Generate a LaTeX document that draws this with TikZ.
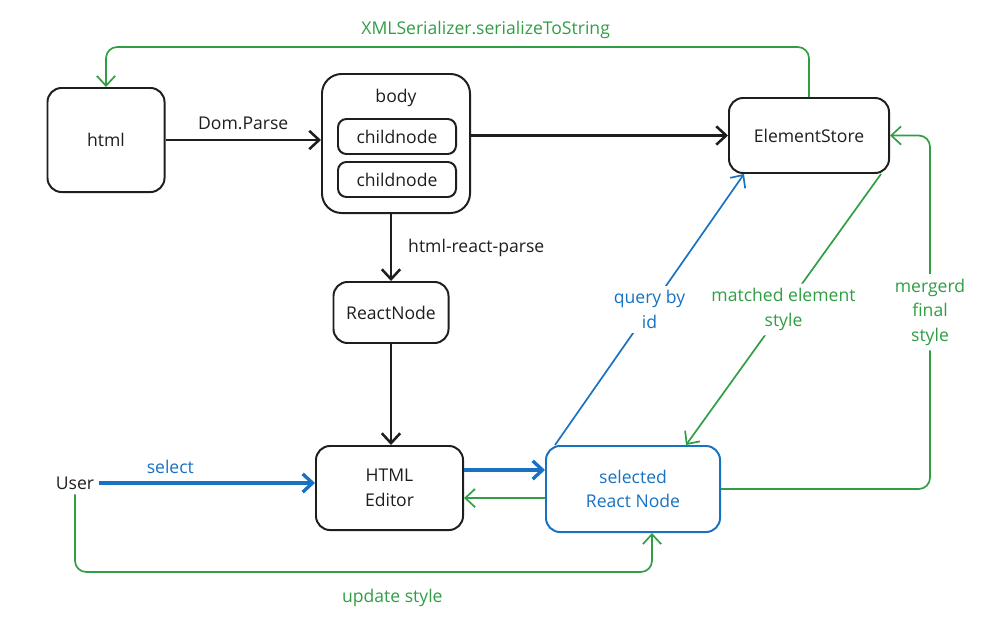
\documentclass[tikz,border=0pt]{standalone}
\usepackage{tikz}
\usepackage{xcolor}
\usepackage{fontspec}
\setmainfont{Open Sans}
\usetikzlibrary{arrows}
\usetikzlibrary{arrows.meta}
\usetikzlibrary{shapes}

\definecolor{exgreen}{HTML}{2F9E44}
\definecolor{exblue}{HTML}{1971C2}
\definecolor{exblack}{HTML}{1E1E1E}

\begin{document}
\begin{tikzpicture}[x=0.025cm, y=-0.025cm, >={Straight Barb[length=7pt, width=13pt]},
  txt/.style={align=center, text=exblack, font=\fontsize{12.5}{17.5}\selectfont},
  box/.style={txt, draw=exblack, line width=1.4pt, rounded corners=10pt, inner sep=0pt},
  bline/.style={draw=exblack, line width=1.8pt},
  blueline/.style={draw=exblue, line width=2.4pt},
  gline/.style={draw=exgreen, line width=1.2pt, rounded corners=8pt},
  glabel/.style={txt, text=exgreen},
  bllabel/.style={txt, text=exblue}]
\useasboundingbox (0,0) rectangle (984,632);

% Knoten
\node[box, minimum width=2.925cm, minimum height=2.6cm] (html) at (106,140) {html};
\node[box, minimum width=3.7cm, minimum height=3.475cm, rounded corners=14pt] (body) at (396,143.5) {};
\node[txt] (bodytitle) at (396,98) {body};
\node[box, minimum width=2.95cm, minimum height=0.875cm, rounded corners=6pt] (child1) at (397,136.5) {childnode};
\node[box, minimum width=2.95cm, minimum height=0.875cm, rounded corners=6pt] (child2) at (397,179.5) {childnode};
\node[box, minimum width=4cm, minimum height=1.875cm] (store) at (809,135.5) {ElementStore};
\node[box, minimum width=2.875cm, minimum height=1.525cm] (rnode) at (391,312.5) {ReactNode};
\node[box, minimum width=3.675cm, minimum height=2.1cm] (editor) at (389.5,488) {HTML\\Editor};
\node[box, draw=exblue, text=exblue, minimum width=4.35cm, minimum height=2.15cm] (sel) at (633,489) {selected\\React Node};
\node[txt] (user) at (75,483) {User};

\coordinate (top) at (0,47);
\coordinate (bot) at (652,572);
\coordinate (mx) at (930,0);

% schwarze Pfeile
\draw[->, bline] (html.east) -- node[txt, above=3pt] {Dom.Parse} (html.east -| body.west);
\draw[->, bline] (body.east |- store.west) -- (store.west);
\draw[->, bline] (body.south -| rnode) -- node[txt, right=8pt] {html-react-parse} (rnode.north);
\draw[->, bline] (rnode.south) -- (rnode.south |- editor.north);

% blaue Pfeile
\draw[->, blueline] (user.east) -- node[bllabel, above=2pt, pos=0.33] {select} (user.east -| editor.west);
\draw[->, blueline] ([yshift=0.45cm]editor.east) -- ([yshift=0.45cm]editor.east -| sel.west);
\draw[->, draw=exblue, line width=1.2pt] ([xshift=0.25cm]sel.north west) -- node[bllabel, fill=white, pos=0.5] {query by\\id} ([xshift=0.4cm]store.south west);

% gruene Pfeile
\draw[->, gline] ([yshift=-0.225cm]sel.west) -- ([yshift=-0.225cm]sel.west -| editor.east);
\draw[->, gline] ([xshift=-0.225cm]store.south east) -- node[glabel, fill=white, pos=0.5] {matched element\\style} ([xshift=1.325cm]sel.north);
\draw[->, gline] (sel.east) -- (sel.east -| mx) -- node[glabel, fill=white] {mergerd\\final\\style} (mx |- store.east) -- (store.east);
\draw[->, gline] (store.north) -- (store.north |- top) -- node[glabel, above=2pt, pos=0.46] {XMLSerializer.serializeToString} (top -| html.north) -- (html.north);
\draw[->, gline] (user.south) -- (user.south |- bot) -- node[glabel, below=8pt, pos=0.55] {update style} (bot) -- (bot |- sel.south);
\end{tikzpicture}
\end{document}
